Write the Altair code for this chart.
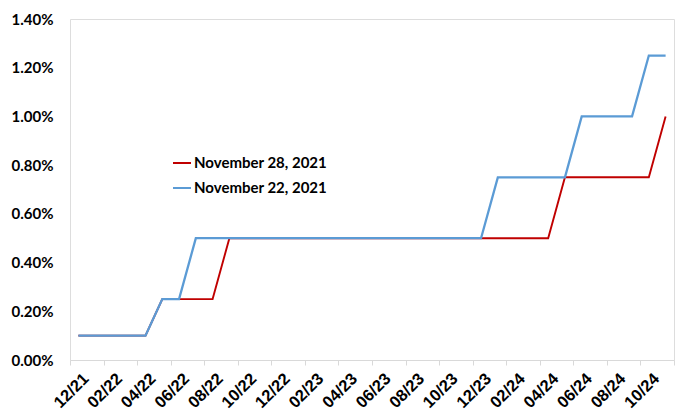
import altair as alt
import pandas as pd

months = ["12/21", "01/22", "02/22", "03/22", "04/22", "05/22", "06/22", "07/22", "08/22",
          "09/22", "10/22", "11/22", "12/22", "01/23", "02/23", "03/23", "04/23", "05/23",
          "06/23", "07/23", "08/23", "09/23", "10/23", "11/23", "12/23", "01/24", "02/24",
          "03/24", "04/24", "05/24", "06/24", "07/24", "08/24", "09/24", "10/24", "11/24"]

nov28 = [0.10, 0.10, 0.10, 0.10, 0.10, 0.25, 0.25, 0.25, 0.25, 0.50, 0.50, 0.50,
         0.50, 0.50, 0.50, 0.50, 0.50, 0.50, 0.50, 0.50, 0.50, 0.50, 0.50, 0.50,
         0.50, 0.50, 0.50, 0.50, 0.50, 0.75, 0.75, 0.75, 0.75, 0.75, 0.75, 1.00]

nov22 = [0.10, 0.10, 0.10, 0.10, 0.10, 0.25, 0.25, 0.50, 0.50, 0.50, 0.50, 0.50,
         0.50, 0.50, 0.50, 0.50, 0.50, 0.50, 0.50, 0.50, 0.50, 0.50, 0.50, 0.50,
         0.50, 0.75, 0.75, 0.75, 0.75, 0.75, 1.00, 1.00, 1.00, 1.00, 1.25, 1.25]

series_names = ["November 28, 2021", "November 22, 2021"]
series_colors = ["#C00000", "#5B9BD5"]

rows = []
for name, vals in zip(series_names, [nov28, nov22]):
    for i, (m, v) in enumerate(zip(months, vals)):
        rows.append({"i": i, "month": m, "rate": v, "series": name})
df = pd.DataFrame(rows)

n = len(months)
tick_vals = [k - 0.5 for k in range(0, n + 1, 2)]
label_map = "{" + ",".join(f"'{k - 0.5}':'{months[k]}'" for k in range(0, n, 2)) + "}"

x_enc = alt.X("i:Q",
              scale=alt.Scale(domain=[-0.5, n - 0.5], nice=False, zero=False),
              axis=alt.Axis(values=tick_vals, title=None, grid=False,
                            labelExpr=f"{label_map}[''+datum.value] || ''",
                            labelAngle=-45, labelAlign="right", labelBaseline="top",
                            labelOffset=10, labelPadding=5,
                            labelFont="Liberation Sans", labelFontWeight="bold",
                            labelFontSize=16.5, labelColor="#000000",
                            domainColor="#D9D9D9", tickColor="#D9D9D9",
                            tickSize=5, labelOverlap=False, labelBound=False))
y_enc = alt.Y("rate:Q",
              scale=alt.Scale(domain=[0, 1.4], nice=False),
              axis=alt.Axis(values=[0, 0.2, 0.4, 0.6, 0.8, 1.0, 1.2, 1.4], title=None,
                            grid=False, domain=False, ticks=False,
                            labelExpr="format(datum.value, '.2f') + '%'",
                            labelFont="Lato", labelFontWeight="bold", labelFontSize=15,
                            labelColor="#000000", labelPadding=17))
c_enc = alt.Color("series:N",
                  scale=alt.Scale(domain=series_names, range=series_colors),
                  legend=alt.Legend(title=None, orient="none", legendX=102, legendY=134,
                                    symbolType="stroke", symbolSize=324,
                                    symbolStrokeWidth=2, labelFont="Lato",
                                    labelFontWeight="bold", labelFontSize=15,
                                    labelColor="#000000", labelOffset=2,
                                    rowPadding=7))

red = alt.Chart(df).mark_line(strokeWidth=1.9).encode(
    x=x_enc, y=y_enc, color=c_enc, order="i:Q"
).transform_filter(alt.datum.series == series_names[0])

blue = alt.Chart(df).mark_line(strokeWidth=2.3).encode(
    x=x_enc, y=y_enc, color=c_enc, order="i:Q"
).transform_filter(alt.datum.series == series_names[1])

chart = alt.layer(red, blue).properties(
    width=604, height=341,
    padding={"left": 70, "top": 19, "right": 12, "bottom": 50},
    autosize=alt.AutoSizeParams(type="none"),
).configure_view(stroke=None).configure(background="#FFFFFF")

chart.save("out.html", embed_options={"renderer": "svg", "actions": False})
